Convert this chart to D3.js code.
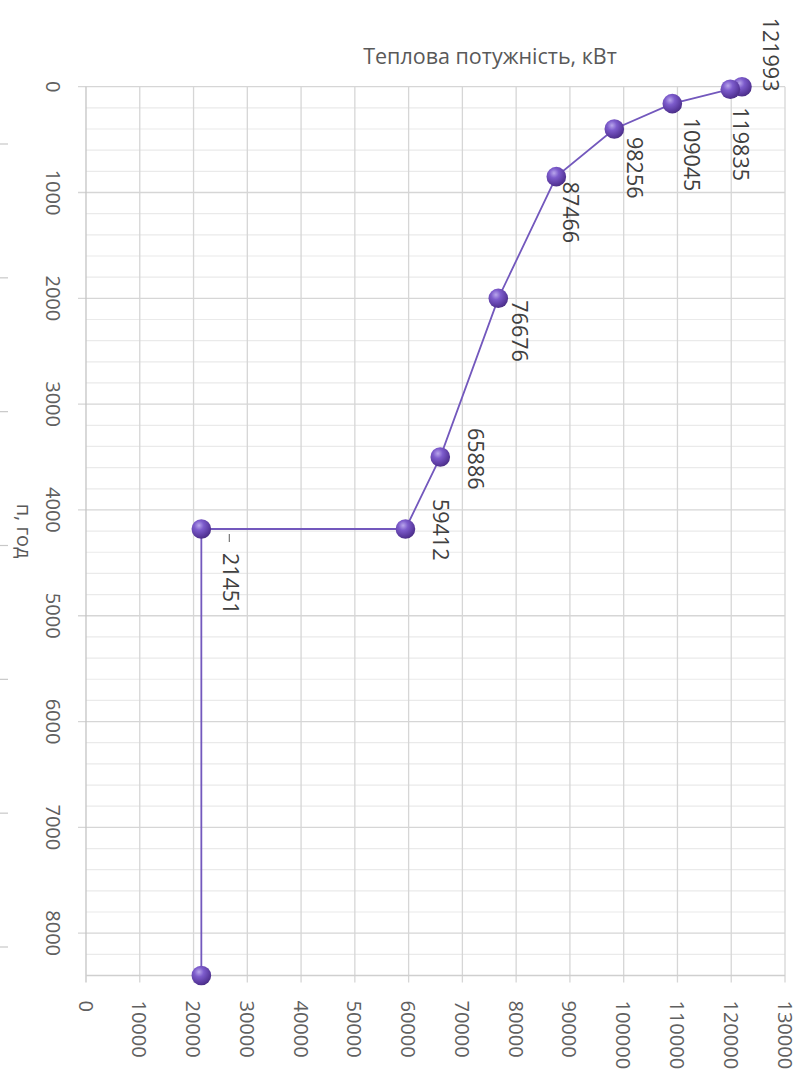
<!DOCTYPE html>
<html>
<head>
<meta charset="utf-8">
<script src="https://cdn.jsdelivr.net/npm/d3@7"></script>
<style>
  body { margin: 0; background: #fff; }
  svg { display: block; }
  text { font-family: "Open Sans", "Noto Sans", sans-serif; }
</style>
</head>
<body>
<svg id="chart" width="808" height="1074"></svg>
<script>
// Load duration curve: thermal power vs. standing hours
const hours = [0, 24, 160, 400, 850, 2000, 3500, 4180, 4180, 8400];
const power = [121993, 119835, 109045, 98256, 87466, 76676, 65886, 59412, 21451, 21451];
const labelled = [true, true, true, true, true, true, true, true, true, false];

const powerTicks = d3.range(0, 130001, 10000);
const hourTicks = d3.range(0, 8001, 1000);
const hourMinorTicks = d3.range(0, 8401, 200);

const titleText = "Теплова потужність, кВт";
const hourAxisTitle = "п, год";

// label placement relative to each marker: [dx, dy of text start]
const labelOffsets = [[30, -69], [11, 18], [20, 14], [21, 8], [15, 5], [22, 2], [36, -29], [36, -30], [30, 24], null];

const svg = d3.select("#chart");
const W = 808, H = 1074;
const plot = { left: 86, right: 785, top: 86.7, bottom: 975.5 };

const x = d3.scaleLinear().domain([0, 130000]).range([plot.left, plot.right]);
const y = d3.scaleLinear().domain([0, 8400]).range([plot.top, plot.bottom]);

svg.append("rect").attr("width", W).attr("height", H).attr("fill", "#fff");

// sphere marker gradient
const defs = svg.append("defs");
const grad = defs.append("radialGradient").attr("id", "ball")
  .attr("cx", "38%").attr("cy", "32%").attr("r", "70%");
grad.append("stop").attr("offset", "0%").attr("stop-color", "#b9a6ec");
grad.append("stop").attr("offset", "35%").attr("stop-color", "#7d5ccc");
grad.append("stop").attr("offset", "80%").attr("stop-color", "#5a3a9f");
grad.append("stop").attr("offset", "100%").attr("stop-color", "#4a2e86");

// faint decorative ticks along the left edge
const edge = d3.scaleLinear().domain([0, 6]).range([144, 947]);
svg.append("g").selectAll("line").data(d3.range(7)).join("line")
  .attr("x1", 0).attr("x2", 8)
  .attr("y1", d => edge(d)).attr("y2", d => edge(d))
  .attr("stroke", "#c8c8c8").attr("stroke-width", 1.2);

// minor horizontal gridlines
svg.append("g").selectAll("line").data(hourMinorTicks.filter(h => h % 1000 !== 0)).join("line")
  .attr("x1", plot.left).attr("x2", plot.right)
  .attr("y1", d => y(d)).attr("y2", d => y(d))
  .attr("stroke", "#eaeaea").attr("stroke-width", 1.2);

// major horizontal gridlines (extend left as ticks)
svg.append("g").selectAll("line").data(hourTicks).join("line")
  .attr("x1", plot.left - 8).attr("x2", plot.right)
  .attr("y1", d => y(d)).attr("y2", d => y(d))
  .attr("stroke", "#d6d6d6").attr("stroke-width", 1.3);

// vertical gridlines (extend below as ticks)
svg.append("g").selectAll("line").data(powerTicks).join("line")
  .attr("x1", d => x(d)).attr("x2", d => x(d))
  .attr("y1", plot.top).attr("y2", plot.bottom + 7)
  .attr("stroke", d => d === 0 ? "#c4c4c4" : "#d6d6d6").attr("stroke-width", 1.3);

// bottom axis line
svg.append("line")
  .attr("x1", plot.left).attr("x2", plot.right)
  .attr("y1", plot.bottom).attr("y2", plot.bottom)
  .attr("stroke", "#cfcfcf").attr("stroke-width", 1.3);

// power tick labels
svg.append("g").selectAll("text").data(powerTicks).join("text")
  .attr("transform", d => `translate(${x(d)},${plot.bottom + 25}) rotate(90)`)
  .attr("text-anchor", "start").attr("dominant-baseline", "central")
  .attr("font-size", 20).attr("fill", "#606060")
  .text(d => d);

// hour tick labels
svg.append("g").selectAll("text").data(hourTicks).join("text")
  .attr("transform", d => `translate(53,${y(d)}) rotate(90)`)
  .attr("text-anchor", "middle").attr("dominant-baseline", "central")
  .attr("font-size", 20).attr("fill", "#606060")
  .text(d => d);

// hour axis title
svg.append("text")
  .attr("transform", `translate(24,${(plot.top + plot.bottom) / 2}) rotate(90)`)
  .attr("text-anchor", "middle").attr("dominant-baseline", "central")
  .attr("font-size", 20).attr("fill", "#595959")
  .text(hourAxisTitle);

// chart title
svg.append("text")
  .attr("x", 490).attr("y", 64)
  .attr("text-anchor", "middle")
  .attr("font-size", 21.5).attr("fill", "#595959")
  .text(titleText);

// series line
const pts = hours.map((h, i) => ({ h, p: power[i], i }));
svg.append("path").datum(pts)
  .attr("fill", "none").attr("stroke", "#7358bd").attr("stroke-width", 1.8)
  .attr("d", d3.line().x(d => x(d.p)).y(d => y(d.h)));

// leader for the 21451 label
svg.append("line")
  .attr("x1", x(power[8]) + 28).attr("x2", x(power[8]) + 28)
  .attr("y1", y(hours[8]) + 5).attr("y2", y(hours[8]) + 13)
  .attr("stroke", "#777").attr("stroke-width", 1.2);

// markers
svg.append("g").selectAll("circle").data(pts).join("circle")
  .attr("cx", d => x(d.p)).attr("cy", d => y(d.h)).attr("r", 9.8)
  .attr("fill", "url(#ball)");

// data labels
svg.append("g").selectAll("text").data(pts.filter(d => labelled[d.i])).join("text")
  .attr("transform", d => `translate(${x(d.p) + labelOffsets[d.i][0]},${y(d.h) + labelOffsets[d.i][1]}) rotate(90)`)
  .attr("text-anchor", "start").attr("dominant-baseline", "central")
  .attr("font-size", 21.5).attr("fill", "#404040")
  .text(d => d.p);
</script>
</body>
</html>
